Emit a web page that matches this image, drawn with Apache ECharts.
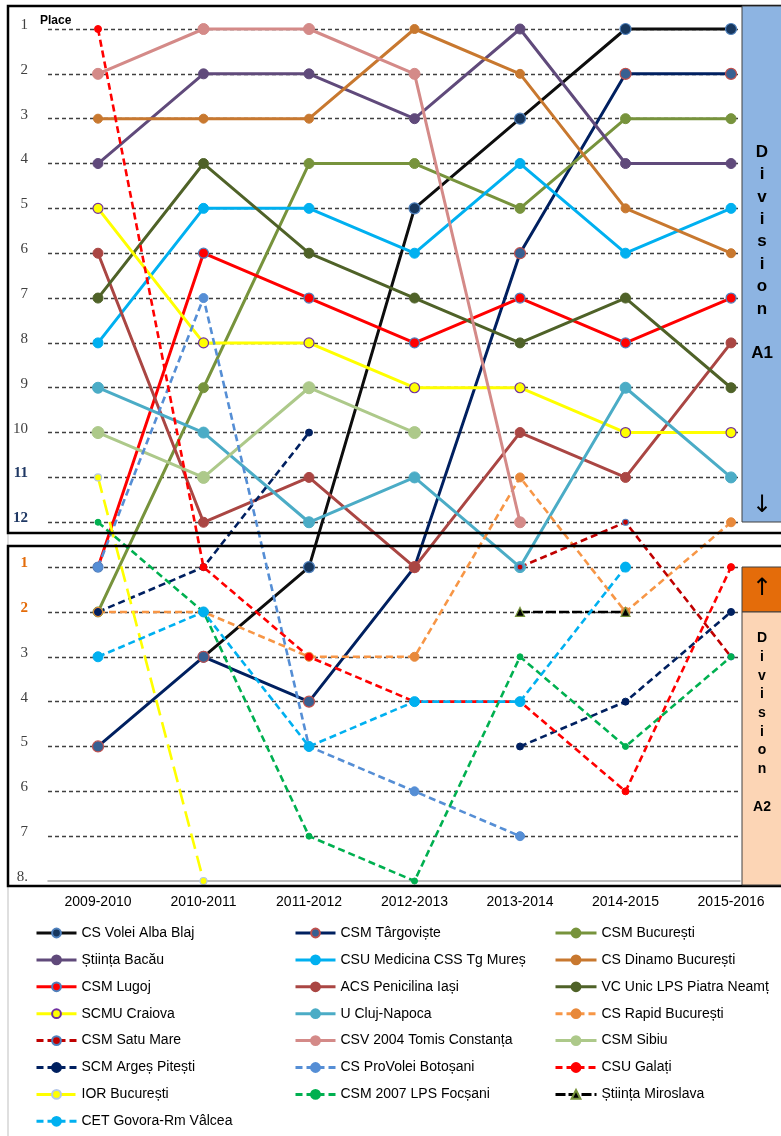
<!DOCTYPE html>
<html>
<head>
<meta charset="utf-8">
<title>Volleyball places</title>
<script src="https://cdn.jsdelivr.net/npm/echarts@6/dist/echarts.min.js"></script>
<style>
    html, body { margin: 0; padding: 0; background: #fff; }
    #chart { width: 781px; height: 1136px; }
</style>
</head>
<body>
<div id="chart"></div>
<script>
// sezoane (axa X)
var seasons = ['2009-2010', '2010-2011', '2011-2012', '2012-2013', '2013-2014', '2014-2015', '2015-2016'];

// locuri pe axa Y: 1..12 = Divizia A1, 13..20 = Divizia A2 locul 1..8
var placeTicks = [1, 2, 3, 4, 5, 6, 7, 8, 9, 10, 11, 12, 13, 14, 15, 16, 17, 18, 19, 20];
var placeLabels = ['1', '2', '3', '4', '5', '6', '7', '8', '9', '10', '11', '12',
                   '1', '2', '3', '4', '5', '6', '7', '8.'];

// clasamente (null = nu a participat)
var csVoleiAlbaBlaj   = [null, 15, 13, 5, 3, 1, 1];
var csmTargoviste     = [17, 15, 16, 13, 6, 2, 2];
var csmBucuresti      = [14, 9, 4, 4, 5, 3, 3];
var stiintaBacau      = [4, 2, 2, 3, 1, 4, 4];
var csuMedicina       = [8, 5, 5, 6, 4, 6, 5];
var csDinamo          = [3, 3, 3, 1, 2, 5, 6];
var csmLugoj          = [13, 6, 7, 8, 7, 8, 7];
var acsPenicilina     = [6, 12, 11, 13, 10, 11, 8];
var vcUnicPiatraNeamt = [7, 4, 6, 7, 8, 7, 9];
var scmuCraiova       = [5, 8, 8, 9, 9, 10, 10];
var uCluj             = [9, 10, 12, 11, 13, 9, 11];
var csRapid           = [14, 14, 15, 15, 11, 14, 12];
var csmSatuMare       = [null, null, null, null, 13, 12, 15];
var csvTomis          = [2, 1, 1, 2, 12, null, null];
var csmSibiu          = [10, 11, 9, 10, null, null, null];
var scmArges          = [14, 13, 10, null, 17, 16, 14];
var csProVolei        = [13, 7, 17, 18, 19, null, null];
var csuGalati         = [1, 13, 15, 16, 16, 18, 13];
var iorBucuresti      = [11, 20, null, null, null, null, null];
var csmFocsani        = [12, 14, 19, 20, 15, 17, 15];
var stiintaMiroslava  = [null, null, null, null, 14, 14, null];
var cetGovora         = [15, 14, 17, 16, 16, 13, null];

// coloanele legendei
var legendCol1 = ['CS Volei Alba Blaj', 'Știința Bacău', 'CSM Lugoj', 'SCMU Craiova',
                  'CSM Satu Mare', 'SCM Argeș Pitești', 'IOR București', 'CET Govora-Rm Vâlcea'];
var legendCol2 = ['CSM Târgoviște', 'CSU Medicina CSS Tg Mureș', 'ACS Penicilina Iași', 'U Cluj-Napoca',
                  'CSV 2004 Tomis Constanța', 'CS ProVolei Botoșani', 'CSM 2007 LPS Focșani'];
var legendCol3 = ['CSM București', 'CS Dinamo București', 'VC Unic LPS Piatra Neamț', 'CS Rapid București',
                  'CSM Sibiu', 'CSU Galați', 'Știința Miroslava'];

// echipe: nume, date, stil
var teams = [
    ['CS Volei Alba Blaj', csVoleiAlbaBlaj, { color: '#0d0d0d', fill: '#17375E', border: '#4F81BD', size: 11 }],
    ['CSM Târgoviște', csmTargoviste, { color: '#002060', fill: '#376092', border: '#C0504D', size: 11 }],
    ['CSM București', csmBucuresti, { color: '#77933C', size: 10 }],
    ['Știința Bacău', stiintaBacau, { color: '#604A7B', size: 10 }],
    ['CSU Medicina CSS Tg Mureș', csuMedicina, { color: '#00B0F0', size: 10 }],
    ['CS Dinamo București', csDinamo, { color: '#C8782F', size: 9 }],
    ['CSM Lugoj', csmLugoj, { color: '#FF0000', border: '#4F81BD', size: 10 }],
    ['ACS Penicilina Iași', acsPenicilina, { color: '#AA4643', size: 10 }],
    ['VC Unic LPS Piatra Neamț', vcUnicPiatraNeamt, { color: '#4F6228', size: 10 }],
    ['SCMU Craiova', scmuCraiova, { color: '#FFFF00', border: '#7030A0', size: 10 }],
    ['U Cluj-Napoca', uCluj, { color: '#4BACC6', size: 11 }],
    ['CS Rapid București', csRapid, { color: '#F79646', fill: '#E8893B', size: 9, dash: [7, 4] }],
    ['CSM Satu Mare', csmSatuMare, { color: '#C00000', border: '#4F81BD', size: 6, dash: [7, 4] }],
    ['CSV 2004 Tomis Constanța', csvTomis, { color: '#D48A88', size: 11 }],
    ['CSM Sibiu', csmSibiu, { color: '#ADC98A', size: 12 }],
    ['SCM Argeș Pitești', scmArges, { color: '#002060', size: 7, dash: [7, 4] }],
    ['CS ProVolei Botoșani', csProVolei, { color: '#558ED5', size: 9, dash: [7, 4] }],
    ['CSU Galați', csuGalati, { color: '#FF0000', size: 7, dash: [7, 4] }],
    ['IOR București', iorBucuresti, { color: '#FFFF00', border: '#B4C7E7', size: 7, dash: [16, 7] }],
    ['CSM 2007 LPS Focșani', csmFocsani, { color: '#00B050', size: 6, dash: [7, 4] }],
    ['Știința Miroslava', stiintaMiroslava, { color: '#000000', border: '#77933C', size: 9, dash: [10, 3], symbol: 'triangle' }],
    ['CET Govora-Rm Vâlcea', cetGovora, { color: '#00B0F0', size: 10, dash: [7, 4] }]
];

function buildSeries() {
    return teams.map(function (t) {
        var st = t[2];
        return {
            name: t[0],
            type: 'line',
            data: t[1].map(function (v, i) { return [i, v == null ? '-' : v]; }),
            connectNulls: false,
            symbol: st.symbol || 'circle',
            symbolSize: st.size,
            showSymbol: true,
            lineStyle: {
                color: st.color,
                width: st.dash ? 2.6 : 3,
                type: st.dash || 'solid'
            },
            itemStyle: {
                color: st.fill || st.color,
                borderColor: st.border || st.fill || st.color,
                borderWidth: st.border ? 1.2 : 1
            },
            emphasis: { disabled: true }
        };
    });
}

function legendAt(left, width, names) {
    return {
        orient: 'vertical',
        left: left,
        top: 926,
        height: 230,
        padding: 0,
        data: names,
        itemWidth: width,
        itemHeight: 11,
        itemGap: 12.9,
        selectedMode: false,
        lineStyle: { width: 3 },
        textStyle: {
            color: '#000',
            fontFamily: 'Liberation Sans, Arial, sans-serif',
            fontSize: 14,
            lineHeight: 14
        }
    };
}

function divisionText(x, y, text, size, lh) {
    return {
        type: 'text', x: x, y: y,
        style: {
            text: text, fill: '#000', align: 'center', verticalAlign: 'top',
            font: 'bold ' + size + 'px "Liberation Sans", Arial, sans-serif',
            lineHeight: lh
        },
        z: 10
    };
}

function arrowText(x, y, text) {
    return {
        type: 'text', x: x, y: y,
        style: {
            text: text, fill: '#000', align: 'center', verticalAlign: 'middle',
            font: '24px "DejaVu Sans", sans-serif'
        },
        z: 10
    };
}

function chartRender() {
    var chart = echarts.init(document.getElementById('chart'));

    var option = {
        animation: false,
        backgroundColor: '#fff',
        grid: { left: 48, right: 41, top: 6.58, bottom: 255 },
        xAxis: {
            type: 'value',
            min: -0.474,
            max: 6.085,
            axisLine: { show: true, lineStyle: { color: '#a6a6a6', width: 1.5 } },
            axisTick: { show: false },
            splitLine: { show: false },
            axisLabel: {
                customValues: [0, 1, 2, 3, 4, 5, 6],
                margin: 14,
                color: '#000',
                fontSize: 14,
                fontFamily: 'Liberation Sans, Arial, sans-serif',
                formatter: function (v) { return seasons[v]; }
            }
        },
        yAxis: {
            type: 'value',
            inverse: true,
            min: 0.5,
            max: 20,
            axisLine: { show: false },
            axisTick: { show: false, customValues: placeTicks.slice(0, 19) },
            splitLine: {
                show: true,
                lineStyle: { color: '#404040', width: 1.3, type: [4, 3] }
            },
            axisLabel: {
                customValues: placeTicks,
                margin: 20,
                padding: [0, 0, 8, 0],
                formatter: function (v) {
                    var txt = placeLabels[v - 1];
                    if (v === 11 || v === 12) return '{b|' + txt + '}';
                    if (v === 13 || v === 14) return '{o|' + txt + '}';
                    return '{n|' + txt + '}';
                },
                rich: {
                    n: { fontFamily: 'Liberation Serif, Times New Roman, serif', fontSize: 15, color: '#404040' },
                    b: { fontFamily: 'Liberation Serif, Times New Roman, serif', fontSize: 15, color: '#1F3864', fontWeight: 'bold' },
                    o: { fontFamily: 'Liberation Serif, Times New Roman, serif', fontSize: 15, color: '#E46C0A', fontWeight: 'bold' }
                }
            }
        },
        legend: [legendAt(35, 40, legendCol1), legendAt(294, 40, legendCol2), legendAt(554, 41, legendCol3)],
        graphic: [
            // chenar divizia A1
            { type: 'rect', shape: { x: 8, y: 6, width: 790, height: 527 },
              style: { fill: null, stroke: '#000', lineWidth: 2.5 }, z: 5 },
            // chenar divizia A2
            { type: 'rect', shape: { x: 8, y: 546, width: 790, height: 340 },
              style: { fill: null, stroke: '#000', lineWidth: 2.5 }, z: 5 },
            { type: 'line', shape: { x1: 8, y1: 533, x2: 8, y2: 1136 },
              style: { stroke: '#bfbfbf', lineWidth: 1 }, z: 4 },
            // benzi laterale
            { type: 'rect', shape: { x: 742, y: 6, width: 40, height: 516 },
              style: { fill: '#8DB4E2', stroke: '#404040', lineWidth: 1 }, z: 6 },
            { type: 'rect', shape: { x: 742, y: 567, width: 40, height: 45 },
              style: { fill: '#E46C0A', stroke: '#404040', lineWidth: 1 }, z: 6 },
            { type: 'rect', shape: { x: 742, y: 612, width: 40, height: 273 },
              style: { fill: '#FCD5B5', stroke: '#404040', lineWidth: 1 }, z: 6 },
            divisionText(762, 141, 'D\ni\nv\ni\ns\ni\no\nn\n\nA1', 17, 22.4),
            divisionText(762, 629, 'D\ni\nv\ni\ns\ni\no\nn\n\nA2', 14, 18.7),
            arrowText(762, 506, '↓'),
            arrowText(762, 589, '↑'),
            { type: 'text', left: 40, top: 15,
              style: { text: 'Place', fill: '#000', font: 'bold 12px "Liberation Sans", Arial, sans-serif' }, z: 10 }
        ],
        series: buildSeries()
    };

    chart.setOption(option);
}

chartRender();
</script>
</body>
</html>
